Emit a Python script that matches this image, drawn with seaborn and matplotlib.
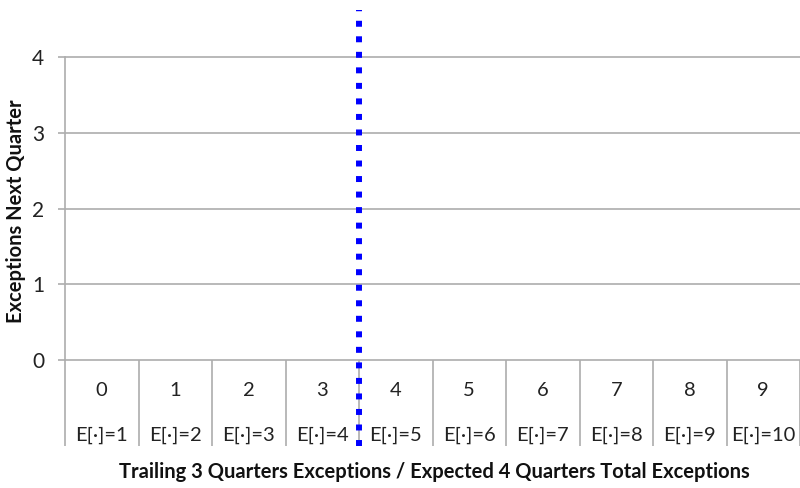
import numpy as np
import matplotlib.pyplot as plt
import seaborn as sns

# data
trailing_exceptions = [0, 1, 2, 3, 4, 5, 6, 7, 8, 9]
expected_total = [1, 2, 3, 4, 5, 6, 7, 8, 9, 10]
y_ticks = [0, 1, 2, 3, 4]
threshold = 4  # boundary between category 3 and 4

sns.set_style('white')
plt.rcParams['font.family'] = ['Lato', 'DejaVu Sans']

GRID = '#ADADAD'

fig = plt.figure(figsize=(8, 4.88), dpi=100)
ax = fig.add_axes([65 / 800, 1 - 360 / 488, 1 - 65 / 800, 350 / 488])

n = len(trailing_exceptions)
ax.set_xlim(0, n)
ax.set_ylim(0, 4 * 350 / 303)

# spines
sns.despine(ax=ax, top=True, right=True)
for s in ['left', 'bottom']:
    ax.spines[s].set_color(GRID)
    ax.spines[s].set_linewidth(1.2)
ax.spines['left'].set_bounds(0, 4)

# y axis
ax.set_yticks(y_ticks)
ax.set_yticklabels([str(v) for v in y_ticks], fontsize=15)
ax.tick_params(axis='y', left=True, direction='out', length=5, width=1.2, color=GRID, pad=10, labelcolor='#222222')
for v in y_ticks[1:]:
    ax.axhline(v, color=GRID, lw=1.2, zorder=1)

# x axis: boundary ticks (long) + category labels on minor ticks
ax.set_xticks(np.arange(0, n + 1))
ax.set_xticklabels([])
ax.tick_params(axis='x', which='major', bottom=True, direction='out', length=62, width=1.2, color=GRID)
ax.set_xticks(np.arange(n) + 0.5, minor=True)
labels = [f"{c}\nE[\u00b7]={e}" for c, e in zip(trailing_exceptions, expected_total)]
ax.set_xticklabels(labels, minor=True, fontsize=14.5, linespacing=2.95, color='#222222')
ax.tick_params(axis='x', which='minor', bottom=True, length=0, pad=16)

# threshold line
y_bottom = -86 / 75.75
ax.plot([threshold, threshold], [y_bottom, ax.get_ylim()[1]], color='#0000FF', lw=4.3,
        linestyle=(0, (1, 1.6)), dash_capstyle='butt', clip_on=False, zorder=5)

fig.text(434 / 800, 1 - 472 / 488, 'Trailing 3 Quarters Exceptions / Expected 4 Quarters Total Exceptions',
         ha='center', va='center', fontsize=14.5, fontweight='bold', color='#111111')
fig.text(16 / 800, 1 - 211 / 488, 'Exceptions Next Quarter', rotation=90,
         ha='center', va='center', fontsize=14.5, fontweight='bold', color='#111111')

fig.savefig('out.png', dpi=100)
